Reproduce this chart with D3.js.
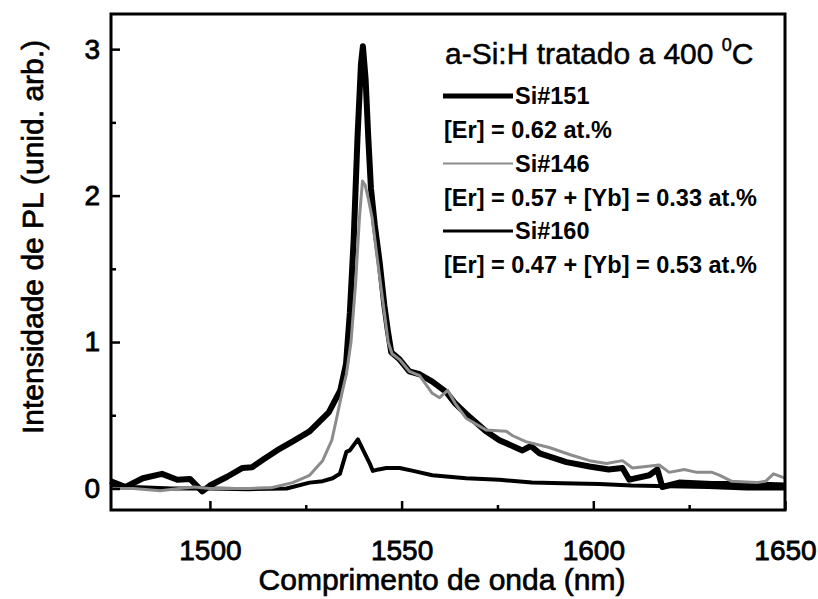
<!DOCTYPE html>
<html>
<head>
<meta charset="utf-8">
<script src="https://cdn.jsdelivr.net/npm/d3@7"></script>
<style>
  body { margin: 0; background: #fff; }
  text { font-family: "Liberation Sans", Arial, sans-serif; fill: #000; }
</style>
</head>
<body>
<div id="chart"></div>
<script>
// PL spectra, wavelength (nm) vs intensity (arb. units)
var si151 = [[1474,0.05],[1478,0.01],[1482.5,0.07],[1487.5,0.10],[1491.5,0.06],[1494.8,0.065],[1498,-0.02],[1500,0.02],
  [1504.5,0.08],[1508.5,0.14],[1511,0.145],[1514,0.2],[1517.5,0.26],[1521.5,0.32],[1526,0.39],[1531,0.52],[1534,0.67],
  [1535.5,0.85],[1536.5,1.2],[1537.5,1.7],[1538.5,2.4],[1539.4,2.9],[1539.9,3.02],[1540.6,2.8],[1541.3,2.4],[1542,2.05],
  [1543,1.8],[1544.3,1.54],[1545.5,1.25],[1546.4,1.08],[1547.3,0.93],[1549.5,0.88],[1552,0.80],[1554.7,0.78],[1558,0.73],
  [1561.6,0.66],[1564,0.58],[1566.8,0.51],[1572,0.39],[1575.5,0.33],[1581.5,0.26],[1583.7,0.29],[1586,0.24],[1593,0.18],
  [1599,0.15],[1604,0.13],[1607.6,0.14],[1609.4,0.06],[1614.6,0.09],[1616.7,0.13],[1618,0.01],[1622.4,0.04],[1631,0.03],
  [1640,0.03],[1650,0.02]];

var si146 = [[1474,0.0],[1480,0.0],[1487,-0.015],[1492,0.0],[1496,0.01],[1500,0.0],[1510,0.0],[1516,0.005],[1521.6,0.04],
  [1526,0.09],[1529.4,0.19],[1531.8,0.33],[1533.3,0.51],[1534.6,0.67],[1535.6,0.78],[1536.8,1.0],[1538,1.4],[1539,1.85],
  [1539.8,2.1],[1540.5,2.07],[1541.3,1.98],[1542.3,1.85],[1543.5,1.6],[1545,1.3],[1546.5,1.0],[1547.5,0.92],[1549.5,0.88],
  [1552,0.80],[1554.7,0.77],[1558,0.65],[1559.9,0.62],[1562,0.67],[1564,0.58],[1566.8,0.48],[1572,0.40],[1577.3,0.39],
  [1579,0.36],[1582.4,0.32],[1588.5,0.28],[1594,0.23],[1599,0.19],[1603.4,0.17],[1607.6,0.19],[1610.2,0.14],[1617.2,0.16],
  [1619.8,0.11],[1623.7,0.13],[1627,0.11],[1631,0.11],[1633,0.09],[1636,0.05],[1642.6,0.04],[1645,0.05],[1647,0.10],[1650,0.07]];

var si160 = [[1474,0.02],[1480,0.01],[1490,0.0],[1500,0.0],[1510,-0.005],[1520,0.0],[1526,0.04],[1529.4,0.05],[1532,0.07],
  [1533.9,0.1],[1535.6,0.25],[1536.5,0.26],[1538.6,0.335],[1540,0.26],[1541.7,0.17],[1542.5,0.12],[1544,0.13],[1546,0.14],
  [1549.5,0.14],[1553,0.12],[1558,0.09],[1566.8,0.07],[1575.5,0.06],[1584,0.04],[1592,0.035],[1601.6,0.03],[1610,0.02],
  [1620,0.015],[1630,0.01],[1640,0.0],[1650,0.0]];

var xTicks = [1500, 1550, 1600, 1650];
var xMinor = [1525, 1575, 1625];
var yTicks = [0, 1, 2, 3];
var yMinor = [0.5, 1.5, 2.5];

var legendTitle = "a-Si:H tratado a 400 ";
var legendNames = ["Si#151", "Si#146", "Si#160"];
var legendNotes = ["[Er] = 0.62 at.%", "[Er] = 0.57 + [Yb] = 0.33 at.%", "[Er] = 0.47 + [Yb] = 0.53 at.%"];

// set the dimensions and margins of the graph
var margin = {top: 14, right: 33, bottom: 89, left: 111},
    width = 818 - margin.left - margin.right,
    height = 599 - margin.top - margin.bottom;

var svg = d3.select("#chart")
    .append("svg")
    .attr("width", 818)
    .attr("height", 599)
    .append("g")
    .attr("transform", "translate(" + margin.left + "," + margin.top + ")");

var xScale = d3.scaleLinear().domain([1474.2, 1650]).range([0, width]);
var yScale = d3.scaleLinear().domain([-0.147, 3.24]).range([height, 0]);

// curves
var line = d3.line()
    .x(d => xScale(d[0]))
    .y(d => yScale(d[1]));

var styles = [
  {data: si151, color: "#000", w: 6},
  {data: si146, color: "#8c8c8c", w: 3},
  {data: si160, color: "#000", w: 4}
];

svg.append("g")
  .selectAll("path")
  .data([styles[2], styles[0], styles[1]])
  .enter()
  .append("path")
    .attr("d", d => line(d.data))
    .attr("fill", "none")
    .attr("stroke", d => d.color)
    .attr("stroke-width", d => d.w)
    .attr("stroke-linejoin", "round");

// axes (ticks point inward)
svg.append("g")
    .attr("transform", "translate(0," + height + ")")
    .call(d3.axisBottom(xScale).tickValues(xTicks).tickSize(-9).tickPadding(30).tickFormat(d3.format("d")));
svg.append("g")
    .attr("transform", "translate(0," + height + ")")
    .call(d3.axisBottom(xScale).tickValues(xMinor).tickSize(-5).tickFormat(""));

svg.append("g")
    .call(d3.axisLeft(yScale).tickValues(yTicks).tickSize(-9).tickPadding(11).tickFormat(d3.format("d")));
svg.append("g")
    .call(d3.axisLeft(yScale).tickValues(yMinor).tickSize(-5).tickFormat(""));

svg.selectAll(".domain").remove();
svg.selectAll(".tick line").attr("stroke", "#000").attr("stroke-width", 2.5);
svg.selectAll(".tick text")
    .attr("font-size", 28)
    .attr("fill", "#000")
    .attr("stroke", "#000")
    .attr("stroke-width", 0.8);

// frame
svg.append("rect")
    .attr("width", width)
    .attr("height", height)
    .attr("fill", "none")
    .attr("stroke", "#000")
    .attr("stroke-width", 3);

// axis titles
svg.append("text")
    .attr("x", width / 2 - 6)
    .attr("y", height + 80)
    .attr("text-anchor", "middle")
    .attr("font-size", 30)
    .attr("stroke", "#000")
    .attr("stroke-width", 0.7)
    .text("Comprimento de onda (nm)");

svg.append("text")
    .attr("transform", "translate(" + (-68) + "," + (237 - margin.top) + ") rotate(-90)")
    .attr("text-anchor", "middle")
    .attr("font-size", 30)
    .attr("stroke", "#000")
    .attr("stroke-width", 0.7)
    .text("Intensidade de PL (unid. arb.)");

// legend
var lg = svg.append("g").attr("transform", "translate(" + (443 - margin.left) + "," + (64 - margin.top) + ")");

var title = lg.append("text")
    .attr("x", 2)
    .attr("y", 0)
    .attr("font-size", 30)
    .attr("stroke", "#000")
    .attr("stroke-width", 0.5)
    .text(legendTitle);
title.append("tspan").attr("dy", -13).attr("font-size", 18).text("0");
title.append("tspan").attr("dy", 13).text("C");

legendNames.forEach(function(name, i) {
  var y0 = 32 + i * 67.5;
  lg.append("line")
    .attr("x1", 0).attr("x2", 70)
    .attr("y1", y0).attr("y2", y0)
    .attr("stroke", styles[i].color)
    .attr("stroke-width", styles[i].w - 1);
  lg.append("text")
    .attr("x", 72).attr("y", y0 + 8)
    .attr("font-size", 23.5)
    .attr("font-weight", "bold")
    .text(name);
  lg.append("text")
    .attr("x", 1).attr("y", y0 + 42)
    .attr("font-size", 23.5)
    .attr("font-weight", "bold")
    .text(legendNotes[i]);
});
</script>
</body>
</html>
